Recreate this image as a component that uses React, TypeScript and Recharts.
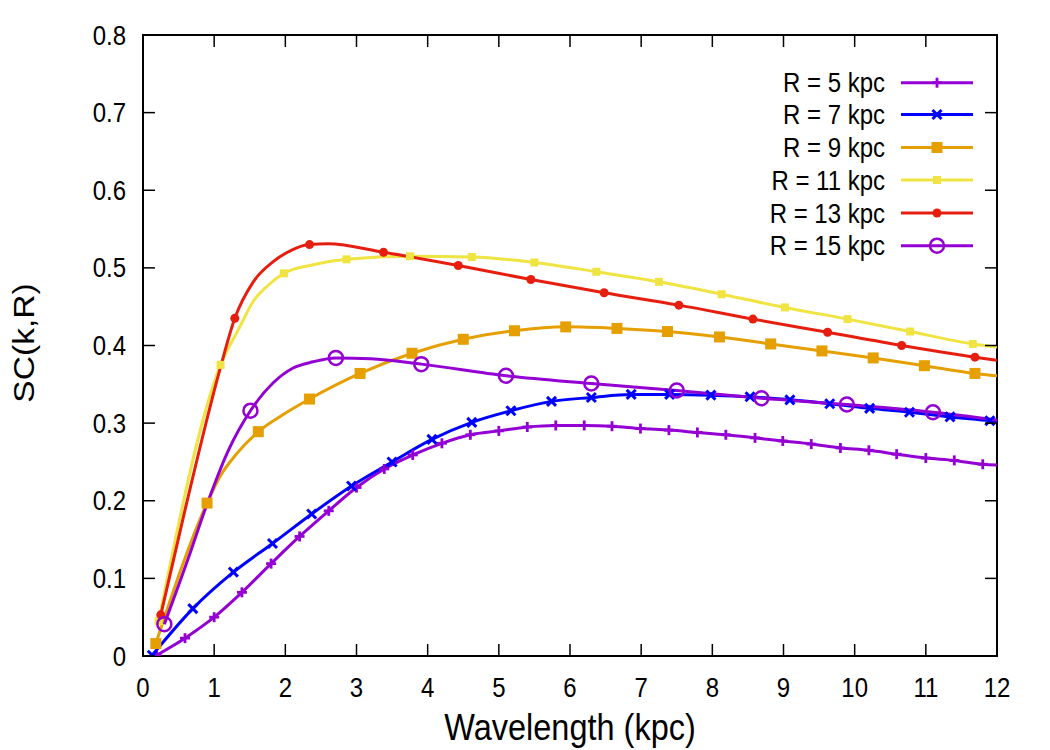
import React from 'react';
import { LineChart, Line, XAxis, YAxis, ReferenceArea, Customized } from 'recharts';

const FONT = '"Liberation Sans", Arial, Helvetica, sans-serif';

const xTicks = [0, 1, 2, 3, 4, 5, 6, 7, 8, 9, 10, 11, 12];
const yTicks = [0, 0.1, 0.2, 0.3, 0.4, 0.5, 0.6, 0.7, 0.8];
const xTitle = 'Wavelength (kpc)';
const yTitle = 'SC(k,R)';

type P = [number, number];

// R = 5 kpc
const r5Markers: P[] = [
  [0.19, 0.001], [0.59, 0.023], [1.0, 0.05], [1.39, 0.082], [1.8, 0.119], [2.2, 0.154], [2.61, 0.187],
  [3.0, 0.217], [3.39, 0.241], [3.79, 0.259], [4.2, 0.274], [4.6, 0.285], [5.0, 0.29], [5.4, 0.295],
  [5.8, 0.297], [6.2, 0.297], [6.59, 0.296], [6.99, 0.293], [7.39, 0.291], [7.79, 0.288], [8.19, 0.285],
  [8.6, 0.281], [8.99, 0.277], [9.39, 0.273], [9.8, 0.268], [10.2, 0.265], [10.59, 0.26], [11.0, 0.255],
  [11.4, 0.252], [11.8, 0.247],
];
const r5Curve: P[] = [[12, 0.246]];

// R = 7 kpc
const r7Markers: P[] = [
  [0.13, 0.001], [0.7, 0.061], [1.27, 0.108], [1.82, 0.145], [2.37, 0.183], [2.93, 0.219], [3.5, 0.25],
  [4.06, 0.279], [4.62, 0.301], [5.17, 0.316], [5.74, 0.328], [6.3, 0.333], [6.86, 0.337], [7.4, 0.337],
  [7.98, 0.336], [8.53, 0.334], [9.09, 0.33], [9.65, 0.325], [10.21, 0.319], [10.77, 0.314], [11.34, 0.308],
  [11.9, 0.303],
];
const r7Curve: P[] = [[12, 0.302]];

// R = 9 kpc
const r9Markers: P[] = [
  [0.18, 0.016], [0.9, 0.197], [1.62, 0.289], [2.34, 0.331], [3.05, 0.364], [3.78, 0.39], [4.5, 0.408],
  [5.22, 0.419], [5.94, 0.424], [6.66, 0.422], [7.37, 0.418], [8.1, 0.411], [8.82, 0.402], [9.54, 0.393],
  [10.26, 0.384], [10.98, 0.374], [11.69, 0.364],
];
const r9Curve: P[] = [[1.08, 0.231], [1.32, 0.261], [1.97, 0.311], [12, 0.361]];

// R = 11 kpc
const r11Markers: P[] = [
  [0.22, 0.045], [1.09, 0.375], [1.98, 0.493], [2.86, 0.511], [3.75, 0.515], [4.62, 0.514], [5.5, 0.507],
  [6.37, 0.495], [7.25, 0.482], [8.13, 0.466], [9.02, 0.449], [9.9, 0.434], [10.78, 0.418], [11.66, 0.402],
];
const r11Curve: P[] = [[1.36, 0.424], [1.55, 0.457], [1.74, 0.476], [2.39, 0.504], [12, 0.398]];

// R = 13 kpc
const r13Markers: P[] = [
  [0.25, 0.053], [1.29, 0.435], [2.34, 0.53], [3.38, 0.52], [4.43, 0.503], [5.45, 0.485], [6.48, 0.468],
  [7.53, 0.452], [8.57, 0.434], [9.62, 0.417], [10.66, 0.4], [11.69, 0.385],
];
const r13Curve: P[] = [[0.59, 0.188], [1.08, 0.369], [1.55, 0.482], [1.83, 0.508], [2.09, 0.523], [2.6, 0.531], [12, 0.381]];

// R = 15 kpc
const r15Markers: P[] = [
  [0.3, 0.041], [1.51, 0.316], [2.71, 0.384], [3.91, 0.376], [5.1, 0.361], [6.3, 0.351], [7.5, 0.342],
  [8.69, 0.332], [9.89, 0.324], [11.1, 0.314],
];
const r15Curve: P[] = [[0.66, 0.132], [0.87, 0.188], [1.2, 0.265], [1.83, 0.352], [2.11, 0.371], [2.39, 0.379], [3.2, 0.383], [12, 0.304]];

type Shape = 'plus' | 'cross' | 'bigSquare' | 'smallSquare' | 'dot' | 'ring';

const build = (markers: P[], curve: P[]) =>
  [...markers.map(([x, y]) => ({ x, y, m: true })), ...curve.map(([x, y]) => ({ x, y, m: false }))].sort(
    (a, b) => a.x - b.x
  );

const series: { name: string; color: string; shape: Shape; data: { x: number; y: number; m: boolean }[] }[] = [
  { name: 'R = 5 kpc', color: '#9400D3', shape: 'plus', data: build(r5Markers, r5Curve) },
  { name: 'R = 7 kpc', color: '#0000FF', shape: 'cross', data: build(r7Markers, r7Curve) },
  { name: 'R = 9 kpc', color: '#E69F00', shape: 'bigSquare', data: build(r9Markers, r9Curve) },
  { name: 'R = 11 kpc', color: '#F0E442', shape: 'smallSquare', data: build(r11Markers, r11Curve) },
  { name: 'R = 13 kpc', color: '#E51E10', shape: 'dot', data: build(r13Markers, r13Curve) },
  { name: 'R = 15 kpc', color: '#9400D3', shape: 'ring', data: build(r15Markers, r15Curve) },
];

const W = 1050;
const H = 750;
const PL = 143;
const PR = 997;
const PT = 35;
const PB = 656;
const TICK = 12;
const SY = 1.12;

function Marker({ shape, cx, cy, color }: { shape: Shape; cx: number; cy: number; color: string }) {
  switch (shape) {
    case 'plus':
      return (
        <g stroke={color} strokeWidth={2.8}>
          <line x1={cx - 5} x2={cx + 5} y1={cy} y2={cy} />
          <line x1={cx} x2={cx} y1={cy - 5} y2={cy + 5} />
        </g>
      );
    case 'cross':
      return (
        <g stroke={color} strokeWidth={3}>
          <line x1={cx - 4.5} x2={cx + 4.5} y1={cy - 4.5} y2={cy + 4.5} />
          <line x1={cx - 4.5} x2={cx + 4.5} y1={cy + 4.5} y2={cy - 4.5} />
        </g>
      );
    case 'bigSquare':
      return <rect x={cx - 5.5} y={cy - 5.5} width={11} height={11} fill={color} />;
    case 'smallSquare':
      return <rect x={cx - 4} y={cy - 4} width={8} height={8} fill={color} />;
    case 'dot':
      return <circle cx={cx} cy={cy} r={4.5} fill={color} />;
    case 'ring':
      return <circle cx={cx} cy={cy} r={7} fill="none" stroke={color} strokeWidth={2.5} />;
  }
  return null;
}

const XTick = (props: any) => {
  const { x, payload } = props;
  return (
    <g>
      <line x1={x} x2={x} y1={PB} y2={PB - TICK} stroke="#000" strokeWidth={1.5} />
      <line x1={x} x2={x} y1={PT} y2={PT + TICK} stroke="#000" strokeWidth={1.5} />
      <text
        transform={`translate(${x},697) scale(1,${SY})`}
        textAnchor="middle"
        fontSize={24}
        fontFamily={FONT}
        fill="#000"
      >
        {payload.value}
      </text>
    </g>
  );
};

const YTick = (props: any) => {
  const { y, payload } = props;
  const v = payload.value as number;
  const label = v === 0 ? '0' : v.toFixed(1);
  return (
    <g>
      <line x1={PL} x2={PL + TICK} y1={y} y2={y} stroke="#000" strokeWidth={1.5} />
      <line x1={PR} x2={PR - TICK} y1={y} y2={y} stroke="#000" strokeWidth={1.5} />
      <text
        transform={`translate(126,${y + 9.6}) scale(1,${SY})`}
        textAnchor="end"
        fontSize={24}
        fontFamily={FONT}
        fill="#000"
      >
        {label}
      </text>
    </g>
  );
};

const Overlay = () => {
  const rowY = [82.7, 114.5, 147.5, 180, 213, 245.7];
  return (
    <g>
      <text
        transform={`translate(570,740) scale(1,${SY})`}
        textAnchor="middle"
        fontSize={32.5}
        fontFamily={FONT}
        fill="#000"
      >
        {xTitle}
      </text>
      <text
        transform={`translate(34,343) rotate(-90) scale(${SY},1)`}
        textAnchor="middle"
        fontSize={30}
        fontFamily={FONT}
        fill="#000"
      >
        {yTitle}
      </text>
      {series.map((s, i) => (
        <g key={s.name}>
          <text
            transform={`translate(885,${rowY[i] + 9.6}) scale(1,${SY})`}
            textAnchor="end"
            fontSize={24}
            fontFamily={FONT}
            fill="#000"
          >
            {s.name}
          </text>
          <line x1={901} x2={973} y1={rowY[i]} y2={rowY[i]} stroke={s.color} strokeWidth={3} />
          <Marker shape={s.shape} cx={937} cy={rowY[i]} color={s.color} />
        </g>
      ))}
    </g>
  );
};

export default function App() {
  return (
    <div style={{ position: 'absolute', left: 0, top: 0, width: W, height: H, background: '#fff' }}>
      <LineChart width={W} height={H} margin={{ top: PT, right: W - PR, bottom: 0, left: 0 }}>
        <XAxis
          type="number"
          dataKey="x"
          domain={[0, 12]}
          ticks={xTicks}
          allowDataOverflow
          height={H - PB}
          axisLine={false}
          tickLine={false}
          tick={<XTick />}
          interval={0}
        />
        <YAxis
          type="number"
          dataKey="y"
          domain={[0, 0.8]}
          ticks={yTicks}
          allowDataOverflow
          width={PL}
          axisLine={false}
          tickLine={false}
          tick={<YTick />}
          interval={0}
        />
        {series.map((s) => (
          <Line
            key={s.name}
            data={s.data}
            dataKey="y"
            type="monotone"
            stroke={s.color}
            strokeWidth={3}
            isAnimationActive={false}
            legendType="none"
            dot={(p: any) =>
              p.payload && p.payload.m ? (
                <Marker key={`${s.name}-${p.index}`} shape={s.shape} cx={p.cx} cy={p.cy} color={s.color} />
              ) : (
                <g key={`${s.name}-${p.index}`} />
              )
            }
            activeDot={false}
          />
        ))}
        <ReferenceArea x1={0} x2={12} y1={0} y2={0.8} fill="none" stroke="#000" strokeWidth={2} ifOverflow="visible" />
        <Customized component={Overlay} />
      </LineChart>
    </div>
  );
}
